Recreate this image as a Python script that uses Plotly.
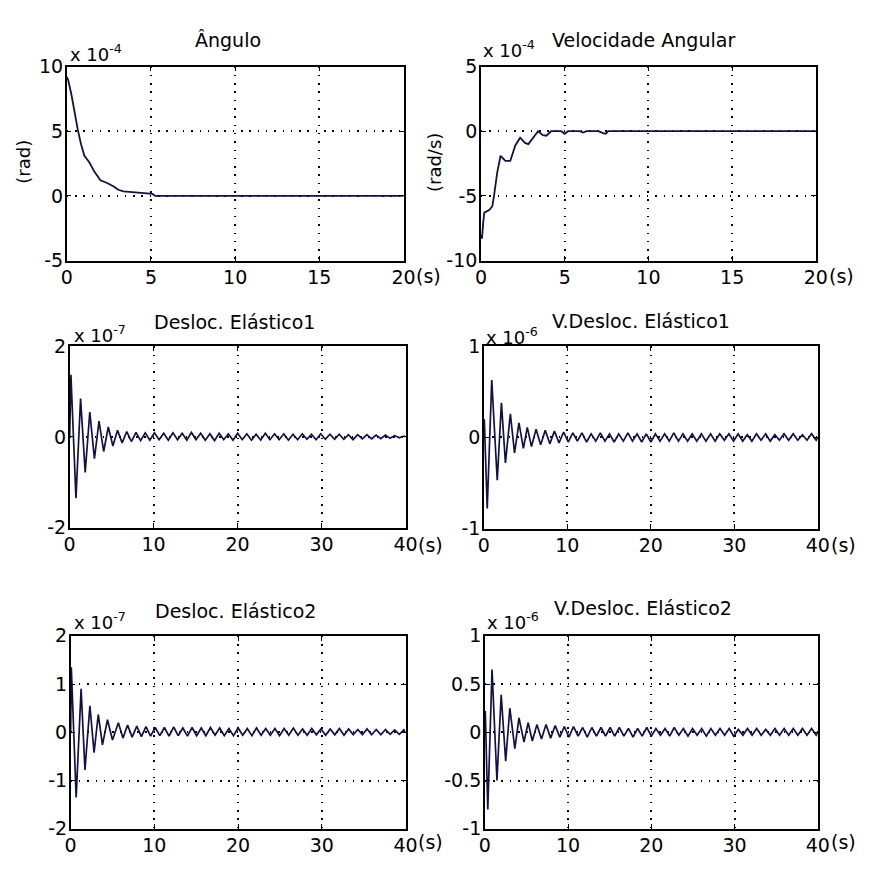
import plotly.graph_objects as go

# ---------------- data ----------------
# Panel 1: Ângulo (x 1e-4 rad), t in s
ang_t = [0, 0.08, 0.27, 0.47, 0.66, 0.85, 1.05, 1.34, 1.63, 2.0, 2.4, 2.79, 3.06, 3.37, 3.95, 4.53, 5.1, 5.25, 20]
ang_v = [9.2, 9.0, 7.9, 6.4, 5.1, 4.0, 3.1, 2.6, 1.9, 1.2, 1.0, 0.73, 0.47, 0.35, 0.3, 0.2, 0.15, 0.0, 0.0]

# Panel 2: Velocidade Angular (x 1e-4 rad/s)
vel_t = [0, 0.06, 0.14, 0.2, 0.49, 0.68, 0.78, 0.97, 1.17, 1.46, 1.75, 2.05, 2.34, 2.63, 2.83, 3.12, 3.41,
         3.7, 3.9, 4.19, 4.5, 4.8, 5.0, 5.2, 5.5, 5.9, 6.1, 6.3, 6.6, 7.0, 7.3, 7.45, 7.6, 20]
vel_v = [-8.0, -8.3, -7.0, -6.3, -6.1, -5.8, -5.0, -3.2, -1.9, -2.3, -2.3, -1.1, -0.5, -0.9, -1.0, -0.5, 0.0,
         -0.3, -0.35, 0.0, 0.0, 0.0, -0.2, 0.0, 0.0, 0.0, -0.1, 0.0, 0.0, 0.0, -0.15, -0.2, 0.0, 0.0]

# Shared time grid of the oscillation extremes after ~5.7 s
tail_t = [5.7, 6.25, 6.8, 7.35, 7.9, 8.45, 9.0, 9.55,
          10.1, 10.65, 11.2, 11.75, 12.3, 12.85, 13.4, 13.95, 14.5, 15.05,
          15.6, 16.15, 16.7, 17.25, 17.8, 18.35, 18.9, 19.45,
          20.0, 20.55, 21.1, 21.65, 22.2, 22.75, 23.3, 23.85, 24.4, 24.95,
          25.5, 26.05, 26.6, 27.15, 27.7, 28.25, 28.8, 29.35, 29.9, 30.45,
          31.0, 31.55, 32.1, 32.65, 33.2, 33.75, 34.3, 34.85, 35.4, 35.95,
          36.5, 37.05, 37.6, 38.15, 38.7, 39.25, 39.8, 40.0]

# Panel 3: Desloc. Elástico1 (x 1e-7)
el1_head_t = [0, 0.15, 0.75, 1.3, 1.85, 2.4, 2.95, 3.5, 4.05, 4.6, 5.15]
el1_head_v = [0, 1.37, -1.35, 0.85, -0.78, 0.55, -0.48, 0.35, -0.32, 0.22, -0.2]
el1_tail_v = [0.15, -0.13, 0.12, -0.1, 0.1, -0.08, 0.09, -0.07,
              0.09, -0.06, 0.08, -0.07, 0.09, -0.06, 0.08, -0.07, 0.1, -0.06,
              0.08, -0.07, 0.07, -0.08, 0.08, -0.06, 0.07, -0.07,
              0.08, -0.06, 0.07, -0.07, 0.06, -0.07, 0.08, -0.06, 0.07, -0.06,
              0.07, -0.07, 0.06, -0.06, 0.07, -0.05, 0.06, -0.06, 0.07, -0.05,
              0.06, -0.05, 0.06, -0.05, 0.05, -0.06, 0.05, -0.04, 0.05, -0.04,
              0.04, -0.04, 0.04, -0.03, 0.03, -0.02, 0.02, 0.0]

# Panel 4: V.Desloc. Elástico1 (x 1e-6)
vl1_head_t = [0, 0.05, 0.4, 0.94, 1.6, 2.1, 2.58, 3.17, 3.67, 4.2, 4.73, 5.2]
vl1_head_v = [0, 0.2, -0.78, 0.63, -0.47, 0.38, -0.28, 0.26, -0.17, 0.16, -0.12, 0.11]
vl1_tail_v = [-0.1, 0.09, -0.08, 0.08, -0.07, 0.07, -0.06, 0.06,
              -0.05, 0.05, -0.04, 0.05, -0.05, 0.04, -0.04, 0.05, -0.04, 0.04,
              -0.05, 0.04, -0.04, 0.05, -0.04, 0.04, -0.05, 0.04,
              -0.05, 0.04, -0.04, 0.04, -0.04, 0.05, -0.04, 0.04, -0.04, 0.04,
              -0.04, 0.04, -0.04, 0.04, -0.04, 0.04, -0.03, 0.04, -0.04, 0.04,
              -0.04, 0.03, -0.04, 0.04, -0.03, 0.04, -0.04, 0.03, -0.03, 0.04,
              -0.03, 0.04, -0.03, 0.03, -0.03, 0.04, -0.03, 0.0]

# Panel 5: Desloc. Elástico2 (x 1e-7)
el2_head_t = [0, 0.08, 0.66, 1.25, 1.71, 2.3, 2.8, 3.3, 3.8, 4.4, 5.0]
el2_head_v = [0, 1.35, -1.35, 0.9, -0.78, 0.55, -0.42, 0.37, -0.26, 0.26, -0.16]
el2_tail_v = [0.2, -0.12, 0.15, -0.1, 0.13, -0.09, 0.12, -0.08,
              0.1, -0.07, 0.1, -0.08, 0.11, -0.07, 0.09, -0.08, 0.1, -0.07,
              0.09, -0.07, 0.1, -0.06, 0.09, -0.07, 0.08, -0.07,
              0.09, -0.06, 0.08, -0.07, 0.09, -0.06, 0.08, -0.06, 0.08, -0.07,
              0.08, -0.06, 0.09, -0.06, 0.07, -0.06, 0.08, -0.05, 0.07, -0.06,
              0.07, -0.05, 0.08, -0.06, 0.07, -0.05, 0.06, -0.05, 0.07, -0.05,
              0.06, -0.05, 0.06, -0.04, 0.05, -0.04, 0.05, 0.0]

# Panel 6: V.Desloc. Elástico2 (x 1e-6)
vl2_head_t = [0, 0.05, 0.35, 0.86, 1.45, 1.96, 2.5, 3.0, 3.6, 4.1, 4.7, 5.2]
vl2_head_v = [0, 0.22, -0.8, 0.65, -0.5, 0.39, -0.3, 0.25, -0.17, 0.15, -0.1, 0.1]
vl2_tail_v = [-0.09, 0.08, -0.07, 0.08, -0.06, 0.07, -0.05, 0.06,
              -0.05, 0.06, -0.04, 0.05, -0.05, 0.05, -0.04, 0.05, -0.04, 0.05,
              -0.04, 0.05, -0.04, 0.04, -0.05, 0.04, -0.04, 0.05,
              -0.04, 0.04, -0.03, 0.04, -0.04, 0.05, -0.03, 0.04, -0.04, 0.04,
              -0.03, 0.04, -0.04, 0.04, -0.03, 0.04, -0.03, 0.04, -0.04, 0.03,
              -0.03, 0.04, -0.03, 0.04, -0.03, 0.03, -0.03, 0.04, -0.03, 0.04,
              -0.03, 0.04, -0.03, 0.04, -0.03, 0.04, -0.03, 0.0]

# Tick labels
x20_vals = [0, 5, 10, 15, 20]
x20_text = ["0", "5", "10", "15", "20"]
x40_vals = [0, 10, 20, 30, 40]
x40_text = ["0", "10", "20", "30", "40"]
y_ang_vals = [-5, 0, 5, 10];        y_ang_text = ["-5", "0", "5", "10"]
y_vel_vals = [-10, -5, 0, 5];       y_vel_text = ["-10", "-5", "0", "5"]
y_el1_vals = [-2, 0, 2];            y_el1_text = ["-2", "0", "2"]
y_vl1_vals = [-1, 0, 1];            y_vl1_text = ["-1", "0", "1"]
y_el2_vals = [-2, -1, 0, 1, 2];     y_el2_text = ["-2", "-1", "0", "1", "2"]
y_vl2_vals = [-1, -0.5, 0, 0.5, 1]; y_vl2_text = ["-1", "-0.5", "0", "0.5", "1"]

titles = ["Ângulo", "Velocidade Angular", "Desloc. Elástico1",
          "V.Desloc. Elástico1", "Desloc. Elástico2", "V.Desloc. Elástico2"]
exponents = ["-4", "-4", "-7", "-6", "-7", "-6"]

# ---------------- layout helpers ----------------
W, H = 869, 872
FONT = "DejaVu Sans"
FS = 19
LINE = "#10104e"


def px(x):
    return x / W


def py(y):
    return 1 - y / H


panels = [
    dict(box=(62, 57, 406, 256), xr=[0, 20], yr=[-5, 10], xv=x20_vals, xt=x20_text,
         yv=y_ang_vals, yt=y_ang_text, t=ang_t, v=ang_v, title_c=227, title_b=38,
         exp_l=63, exp_b=52, ylab="(rad)", ylab_c=(17, 155), lbl_c=272, w=1.8),
    dict(box=(485, 57, 827, 256), xr=[0, 20], yr=[-10, 5], xv=x20_vals, xt=x20_text,
         yv=y_vel_vals, yt=y_vel_text, t=vel_t, v=vel_v, title_c=651, title_b=38,
         exp_l=485, exp_b=48, ylab="(rad/s)", ylab_c=(437, 155), lbl_c=272, w=1.8),
    dict(box=(65, 344, 408, 530), xr=[0, 40], yr=[-2, 2], xv=x40_vals, xt=x40_text,
         yv=y_el1_vals, yt=y_el1_text, t=el1_head_t + tail_t, v=el1_head_v + el1_tail_v,
         title_c=233, title_b=327, exp_l=67, exp_b=340, ylab=None, lbl_c=548, w=1.7),
    dict(box=(488, 344, 829, 531), xr=[0, 40], yr=[-1, 1], xv=x40_vals, xt=x40_text,
         yv=y_vl1_vals, yt=y_vl1_text, t=vl1_head_t + tail_t, v=vl1_head_v + vl1_tail_v,
         title_c=648, title_b=326, exp_l=488, exp_b=342, ylab=None, lbl_c=548, w=1.7),
    dict(box=(66, 641, 408, 839), xr=[0, 40], yr=[-2, 2], xv=x40_vals, xt=x40_text,
         yv=y_el2_vals, yt=y_el2_text, t=el2_head_t + tail_t, v=el2_head_v + el2_tail_v,
         title_c=234, title_b=623, exp_l=67, exp_b=635, ylab=None, lbl_c=853, w=1.7),
    dict(box=(489, 641, 829, 839), xr=[0, 40], yr=[-1, 1], xv=x40_vals, xt=x40_text,
         yv=y_vl2_vals, yt=y_vl2_text, t=vl2_head_t + tail_t, v=vl2_head_v + vl2_tail_v,
         title_c=650, title_b=620, exp_l=489, exp_b=635, ylab=None, lbl_c=853, w=1.7),
]

fig = go.Figure()
annotations = []
layout_axes = {}

for i, p in enumerate(panels):
    n = "" if i == 0 else str(i + 1)
    x0, y0, x1, y1 = p["box"]
    fig.add_trace(go.Scatter(x=p["t"], y=p["v"], mode="lines", xaxis="x" + n, yaxis="y" + n,
                             line=dict(color=LINE, width=p["w"]), hoverinfo="skip",
                             showlegend=False))
    common = dict(showline=True, linecolor="black", linewidth=1.5, mirror="ticks",
                  ticks="inside", ticklen=5, tickwidth=1, tickcolor="black",
                  showgrid=True, gridcolor="black", gridwidth=1.5, griddash="1.5px,6.8px",
                  zeroline=False, tickfont=dict(family=FONT, size=FS, color="black"),
                  fixedrange=True)
    layout_axes["xaxis" + n] = dict(common, domain=[px(x0), px(x1)], range=p["xr"],
                                    tickmode="array", tickvals=p["xv"], ticktext=p["xt"],
                                    anchor="y" + n, ticklabelstandoff=-1)
    layout_axes["yaxis" + n] = dict(common, domain=[py(y1), py(y0)], range=p["yr"],
                                    tickmode="array", tickvals=p["yv"], ticktext=p["yt"],
                                    anchor="x" + n, ticklabelstandoff=-2)
    # title
    annotations.append(dict(text=titles[i], x=px(p["title_c"]), y=py(p["title_b"] + 5.5),
                            xref="paper", yref="paper", xanchor="center", yanchor="bottom",
                            showarrow=False, font=dict(family=FONT, size=FS, color="black")))
    # exponent
    annotations.append(dict(text="x 10<sup>" + exponents[i] + "</sup>", x=px(p["exp_l"]),
                            y=py(p["exp_b"] + 5.5), xref="paper", yref="paper",
                            xanchor="left", yanchor="bottom", showarrow=False,
                            font=dict(family=FONT, size=FS - 1, color="black")))
    # "(s)" after last x tick
    annotations.append(dict(text="(s)", x=px(x1 + 11), y=py(p["lbl_c"]), xref="paper",
                            yref="paper", xanchor="left", yanchor="middle", showarrow=False,
                            font=dict(family=FONT, size=FS, color="black")))
    if p["ylab"]:
        annotations.append(dict(text=p["ylab"], x=px(p["ylab_c"][0]), y=py(p["ylab_c"][1]),
                                xref="paper", yref="paper", xanchor="center", yanchor="middle",
                                textangle=-90, showarrow=False,
                                font=dict(family=FONT, size=FS - 1, color="black")))

fig.update_layout(width=W, height=H, margin=dict(l=0, r=0, t=0, b=0),
                  paper_bgcolor="white", plot_bgcolor="white", showlegend=False,
                  annotations=annotations, **layout_axes)

fig.write_html("out.html", config={"displayModeBar": False})
